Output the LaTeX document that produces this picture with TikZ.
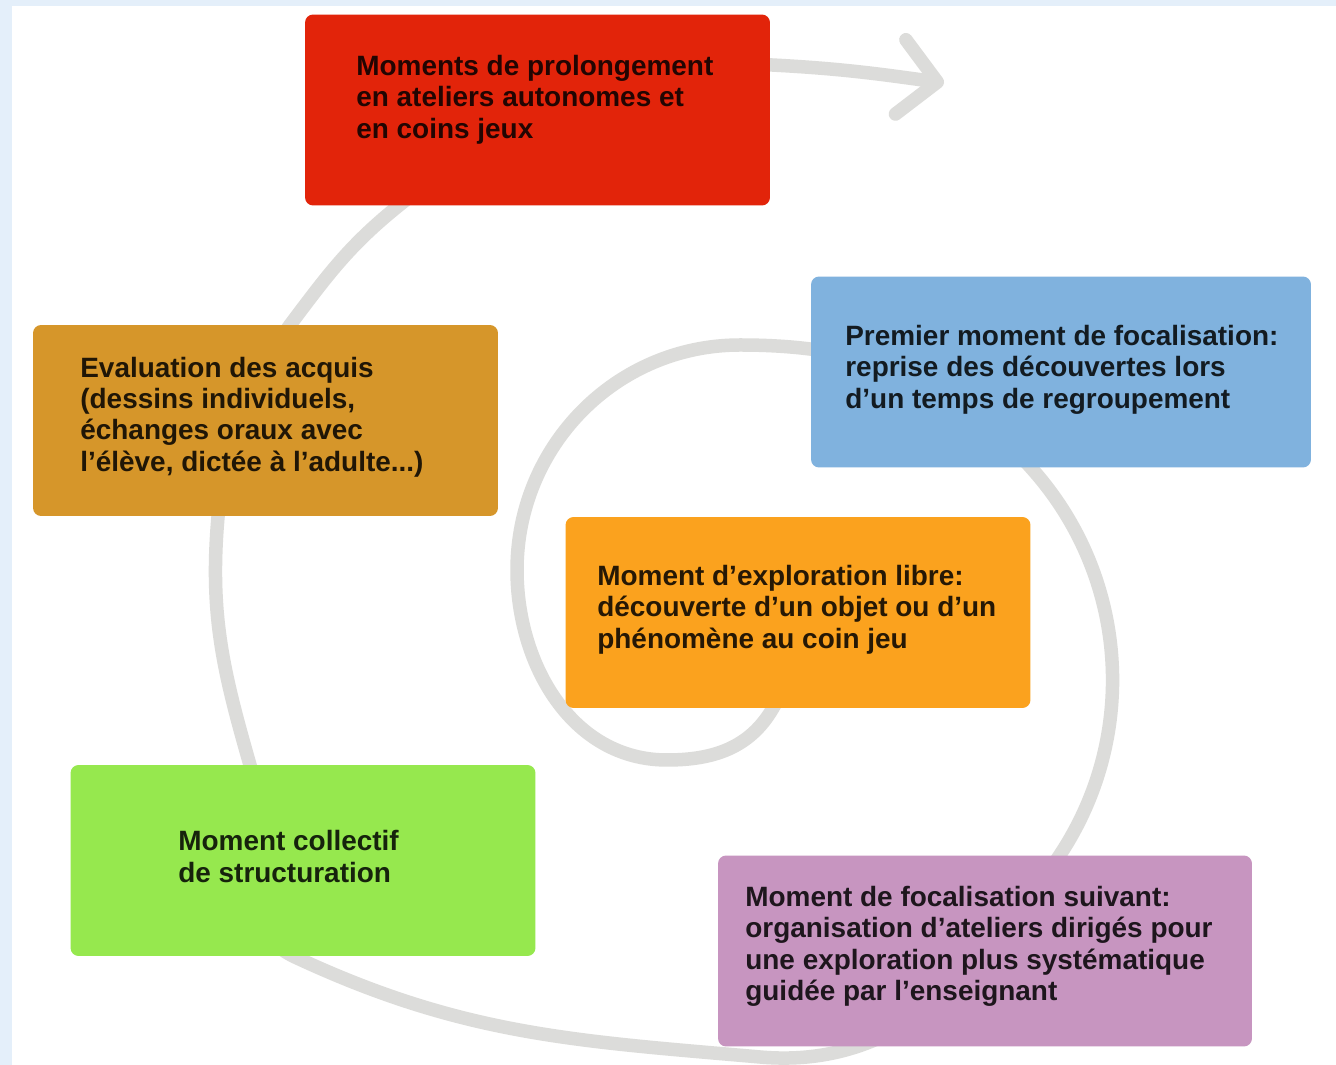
\documentclass[tikz,border=0pt]{standalone}
\usepackage{fontspec}
\setmainfont{Liberation Sans}
\usetikzlibrary{arrows.meta,backgrounds,positioning}
\definecolor{prolongred}{RGB}{226,36,10}
\definecolor{premierblue}{RGB}{128,178,222}
\definecolor{evalgold}{RGB}{214,150,42}
\definecolor{explorange}{RGB}{251,162,30}
\definecolor{structgreen}{RGB}{150,232,78}
\definecolor{suivantmauve}{RGB}{199,149,192}
\definecolor{spiralgrey}{RGB}{220,220,218}
\definecolor{frameblue}{RGB}{228,239,250}

\begin{document}
\begin{tikzpicture}[
						x=0.02cm,
						y=0.02cm,
						box/.style={fill=#1, rounded corners=0.16cm, inner sep=0pt, minimum width=9.3cm, minimum height=3.82cm},
						txt/.style={anchor=west, align=left, inner sep=0pt, text=#1!15!black, font=\bfseries\fontsize{15.9}{17.9}\selectfont},
						spiral/.style={draw=spiralgrey, line width=0.27cm, line cap=round}
					]
					\useasboundingbox (0,0) rectangle (1336,1065);
					\node[box=prolongred] (prolong) at (537.5,955) {};
					\node[box=premierblue, minimum width=10cm] (premier) at (1061,693) {};
					\node[box=evalgold] (evaluation) at (265.5,644.5) {};
					\node[box=explorange] (exploration) at (798,452.5) {};
					\node[box=structgreen] (structuration) at (303,204.5) {};
					\node[box=suivantmauve, minimum width=10.68cm] (suivant) at (985,114) {};
					\node[txt=prolongred] (prolongtxt) at (356,965.5) {Moments de prolongement\\en ateliers autonomes et\\en coins jeux};
					\node[txt=premierblue] (premiertxt) at (845,695.5) {Premier moment de focalisation:\\reprise des découvertes lors\\d'un temps de regroupement};
					\node[txt=evalgold] (evaluationtxt) at (80,648) {Evaluation des acquis\\(dessins individuels,\\échanges oraux avec\\l'élève, dictée à l'adulte...)};
					\node[txt=explorange] (explorationtxt) at (597,455.5) {Moment d'exploration libre:\\découverte d'un objet ou d'un\\phénomène au coin jeu};
					\node[txt=structgreen] (structurationtxt) at (178,208.5) {Moment collectif\\de structuration};
					\node[txt=suivantmauve] (suivanttxt) at (745,118.5) {Moment de focalisation suivant:\\organisation d'ateliers dirigés pour\\une exploration plus systématique\\guidée par l'enseignant};
					\coordinate (arrowend) at (944,982);
					\begin{scope}[on background layer]
						\fill[frameblue] (0,0) rectangle (1336,1065);
						\fill[white] (12,0) rectangle (1336,1059);
						\draw[spiral, -{Straight Barb[length=0.74cm, width=1.5cm, line cap=round, line join=round]}]
							(exploration.center) to[out=-90, in=60] (773,357)
							to[out=240, in=0] (667,305)
							to[out=180, in=-90] (517,495)
							to[out=90, in=180] (740,720)
							to[out=0, in=131.5] (1033,595)
							arc[start angle=41.5, end angle=-33.5, radius=6.34cm]
							to[out=-123.5, in=-5] (760,8)
							to[out=175, in=-25] (295,108)
							to[out=155, in=-74] (250,300)
							to[out=106, in=-95] (218,548)
							to[out=85, in=-125] (290,740)
							to[out=53, in=-141] (397,858)
							to[out=39, in=180] (772,1000)
							to[out=-3, in=172] (arrowend);
					\end{scope}
				\end{tikzpicture}
\end{document}
